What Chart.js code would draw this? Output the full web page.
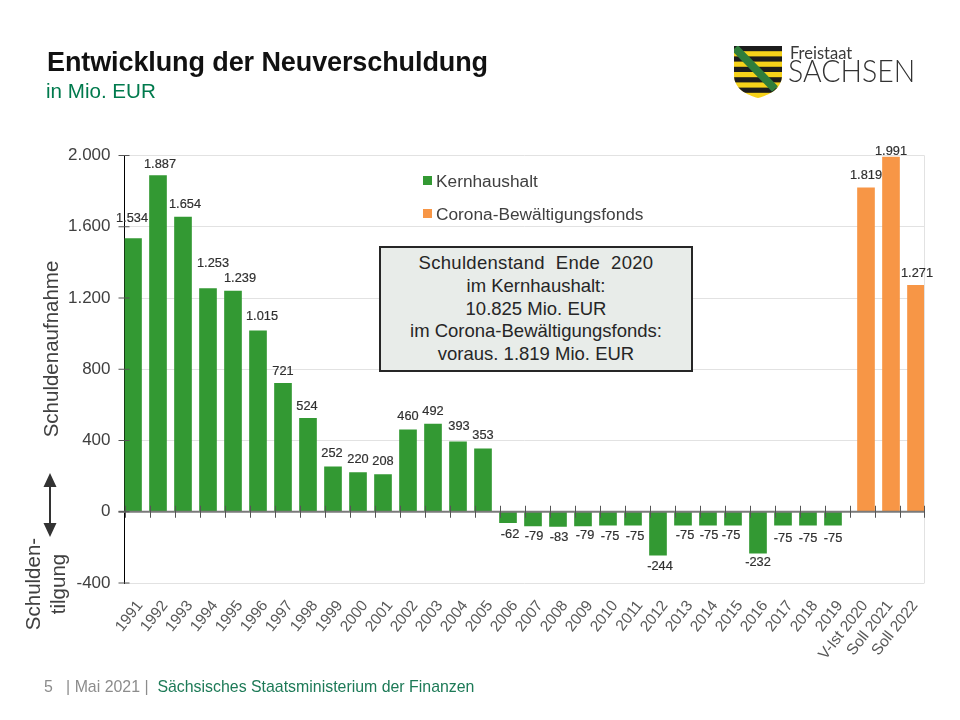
<!DOCTYPE html>
<html lang="de">
<head>
<meta charset="utf-8">
<title>Entwicklung der Neuverschuldung</title>
<script src="https://cdn.jsdelivr.net/npm/chart.js@4/dist/chart.umd.min.js"></script>
<style>
  html, body { margin: 0; padding: 0; background: #fff; }
  #page { position: relative; width: 960px; height: 720px; overflow: hidden; font-family: "Liberation Sans", Arial, sans-serif; color: #404040; }
  #chart { position: absolute; left: 0; top: 0; }
  .txt { position: absolute; white-space: nowrap; }
  #title { left: 47px; top: 47px; font-size: 27px; font-weight: bold; color: #111; letter-spacing: -0.1px; }
  #sub { left: 46px; top: 79px; font-size: 21px; color: #007a4d; transform-origin: left; transform: scaleX(0.98); }
  .legend { left: 436px; font-size: 17.3px; color: #404040; }
  .swatch { position: absolute; left: 423px; width: 9px; height: 9px; }
  #box { position: absolute; left: 379px; top: 246px; width: 310px; height: 119px; border: 2px solid #262626; background: #e8ece9; text-align: center; font-size: 18.5px; line-height: 22.7px; color: #262626; padding-top: 3px; }
  #box .head { font-size: 18.5px; letter-spacing: 0.3px; line-height: 24px; }
  .rot { position: absolute; transform: translate(-50%, -50%) rotate(-90deg); white-space: nowrap; font-size: 20.5px; text-align: center; color: #404040; }
  #foot { left: 44px; top: 678px; font-size: 15.9px; color: #8c8c8c; }
  #foot b { font-weight: normal; color: #1d7a57; }
  #logo1 { left: 790px; top: 43px; font-family: "Lato", sans-serif; font-size: 16.5px; color: #3a3a3a; }
  #logo2 { left: 788px; top: 50px; font-family: "Lato", sans-serif; font-weight: 300; font-size: 32px; color: #333; transform-origin: left; transform: scaleX(0.89); }
</style>
</head>
<body>
<div id="page">
  <canvas id="chart" width="960" height="720"></canvas>
  <div class="txt" id="title">Entwicklung der Neuverschuldung</div>
  <div class="txt" id="sub">in Mio. EUR</div>

  <svg style="position:absolute;left:733px;top:45px" width="50" height="54" viewBox="0 0 50 54">
    <defs><clipPath id="shield"><path d="M1 1H49V30C49 44 36 50 25 53C14 50 1 44 1 30Z"/></clipPath></defs>
    <g clip-path="url(#shield)">
      <rect width="50" height="54" fill="#f6d21a"/>
      <rect y="1" width="50" height="5.2" fill="#1c1c1c"/>
      <rect y="11.4" width="50" height="5.2" fill="#1c1c1c"/>
      <rect y="21.8" width="50" height="5.2" fill="#1c1c1c"/>
      <rect y="32.2" width="50" height="5.2" fill="#1c1c1c"/>
      <rect y="42.6" width="50" height="5.2" fill="#1c1c1c"/>
      <path d="M2 3L42 44" stroke="#2f7d3b" stroke-width="8" fill="none"/>
    </g>
  </svg>
  <div class="txt" id="logo1">Freistaat</div>
  <div class="txt" id="logo2">SACHSEN</div>

  <div class="swatch" style="top:176px;background:#339933"></div>
  <div class="txt legend" style="top:171px">Kernhaushalt</div>
  <div class="swatch" style="top:209px;background:#f79646"></div>
  <div class="txt legend" style="top:204px">Corona-Bewältigungsfonds</div>

  <div id="box">
    <div class="head">Schuldenstand&nbsp; Ende&nbsp; 2020</div>
    im Kernhaushalt:<br>10.825 Mio. EUR<br>im Corona-Bewältigungsfonds:<br>voraus. 1.819 Mio. EUR
  </div>

  <div class="rot" style="left:51px;top:349px">Schuldenaufnahme</div>
  <div class="rot" style="left:33px;top:584px">Schulden-</div>
  <div class="rot" style="left:58px;top:584px">tilgung</div>
  <svg style="position:absolute;left:42px;top:472px" width="16" height="66" viewBox="0 0 16 66">
    <path d="M8 1L14.5 15H9V51H14.5L8 65L1.5 51H7V15H1.5Z" fill="#333"/>
  </svg>

  <div class="txt" id="foot">5 &nbsp;&nbsp;| Mai 2021 |&nbsp; <b>Sächsisches Staatsministerium der Finanzen</b></div>
</div>

<script>
// Daten
const categories = ['1991', '1992', '1993', '1994', '1995', '1996', '1997', '1998', '1999', '2000',
  '2001', '2002', '2003', '2004', '2005', '2006', '2007', '2008', '2009', '2010',
  '2011', '2012', '2013', '2014', '2015', '2016', '2017', '2018', '2019',
  'V-Ist 2020', 'Soll 2021', 'Soll 2022'];
const kernhaushalt = [1534, 1887, 1654, 1253, 1239, 1015, 721, 524, 252, 220,
  208, 460, 492, 393, 353, -62, -79, -83, -79, -75,
  -75, -244, -75, -75, -75, -232, -75, -75, -75];
const corona = [1819, 1991, 1271];
const yTicks = [2000, 1600, 1200, 800, 400, 0, -400];

// Handgesetzte Versätze der Wertebeschriftungen
const kernShiftX = [-1, 2, 2, 5, 7, 4, 0, -1, -1, 0, 0, 0, 0, 1, 0, 2, 1, 1, 2, 2, 2, 2, 2, 1, -2, 0, 0, 0, 0];
const kernShiftY = [-20, -11, -13, -25, -13, -14, -12, -12, -13, -13, -13, -13, -13, -15, -13,
  12, 11, 11, 10, 11, 11, 11, 10, 10, 10, 9, 13, 13, 13];
const coronaShiftX = [0, 0, 1];
const coronaShiftY = [-12, -6, -12];

const fmt = v => v.toLocaleString('de-DE');
const kernPoints = kernhaushalt.map((v, i) => ({ x: i - 0.16, y: v }));
const coronaPoints = corona.map((v, i) => ({ x: kernhaushalt.length + i + 0.16, y: v }));

// Achsenstriche, Nulllinie und Wertebeschriftungen
const overlay = {
  id: 'overlay',
  afterDatasetsDraw(chart) {
    const { ctx, chartArea: a, scales: { x, y } } = chart;
    const zero = y.getPixelForValue(0);
    ctx.save();
    ctx.strokeStyle = '#e2e2e2';
    ctx.lineWidth = 1;
    ctx.beginPath();
    ctx.moveTo(a.right, a.top);
    ctx.lineTo(a.right, a.bottom);
    ctx.stroke();

    ctx.strokeStyle = '#7a7a7a';
    ctx.lineWidth = 2;
    ctx.beginPath();
    ctx.moveTo(a.left - 6, zero);
    ctx.lineTo(a.right, zero);
    ctx.stroke();

    ctx.strokeStyle = '#555';
    ctx.lineWidth = 1;
    ctx.beginPath();
    yTicks.forEach(t => {
      const py = y.getPixelForValue(t);
      ctx.moveTo(a.left - 6, py);
      ctx.lineTo(a.left + 5, py);
    });
    categories.forEach((c, i) => {
      const px = Math.round(x.getPixelForValue(i - 0.5)) + 0.5;
      ctx.moveTo(px, zero - 6);
      ctx.lineTo(px, zero + 6);
    });
    ctx.moveTo(a.right, zero - 6);
    ctx.lineTo(a.right, zero + 6);
    ctx.stroke();

    ctx.font = '12.8px "Liberation Sans", Arial, sans-serif';
    ctx.fillStyle = '#303030';
    ctx.strokeStyle = '#303030';
    ctx.lineWidth = 0.2;
    ctx.textAlign = 'center';
    ctx.textBaseline = 'middle';
    const label = (dsIndex, values, sx, sy) => {
      chart.getDatasetMeta(dsIndex).data.forEach((bar, i) => {
        ctx.fillText(fmt(values[i]), bar.x + sx[i], bar.y + sy[i]);
        ctx.strokeText(fmt(values[i]), bar.x + sx[i], bar.y + sy[i]);
      });
    };
    label(0, kernhaushalt, kernShiftX, kernShiftY);
    label(1, corona, coronaShiftX, coronaShiftY);
    ctx.restore();
  }
};

new Chart(document.getElementById('chart'), {
  type: 'bar',
  data: {
    datasets: [
      { label: 'Kernhaushalt', data: kernPoints, backgroundColor: '#339933', barThickness: 17, grouped: false },
      { label: 'Corona-Bewältigungsfonds', data: coronaPoints, backgroundColor: '#f79646', barThickness: 17, grouped: false }
    ]
  },
  options: {
    responsive: false,
    animation: false,
    devicePixelRatio: 1,
    layout: { padding: { left: 0, right: 35.5, top: 155.5, bottom: 0 } },
    plugins: { legend: { display: false }, tooltip: { enabled: false } },
    scales: {
      x: {
        type: 'linear',
        offset: false,
        min: -0.5,
        max: categories.length - 0.5,
        afterBuildTicks: s => { s.ticks = categories.map((c, i) => ({ value: i })); },
        afterFit: s => { s.height = 137; },
        grid: { display: false },
        border: { display: false },
        ticks: {
          callback: v => categories[v],
          autoSkip: false,
          minRotation: 52,
          maxRotation: 52,
          padding: 6,
          labelOffset: 3,
          color: '#595959',
          font: { family: '"Liberation Sans", Arial, sans-serif', size: 15.5 }
        }
      },
      y: {
        min: -400,
        max: 2000,
        afterBuildTicks: s => { s.ticks = yTicks.map(v => ({ value: v })); },
        afterFit: s => { s.width = 124.5; },
        grid: { color: '#e2e2e2', drawTicks: false },
        border: { display: true, color: '#000', width: 1 },
        ticks: {
          callback: v => fmt(v),
          padding: 14,
          color: '#404040',
          font: { family: '"Liberation Sans", Arial, sans-serif', size: 17 }
        }
      }
    }
  },
  plugins: [overlay]
});
</script>
</body>
</html>
